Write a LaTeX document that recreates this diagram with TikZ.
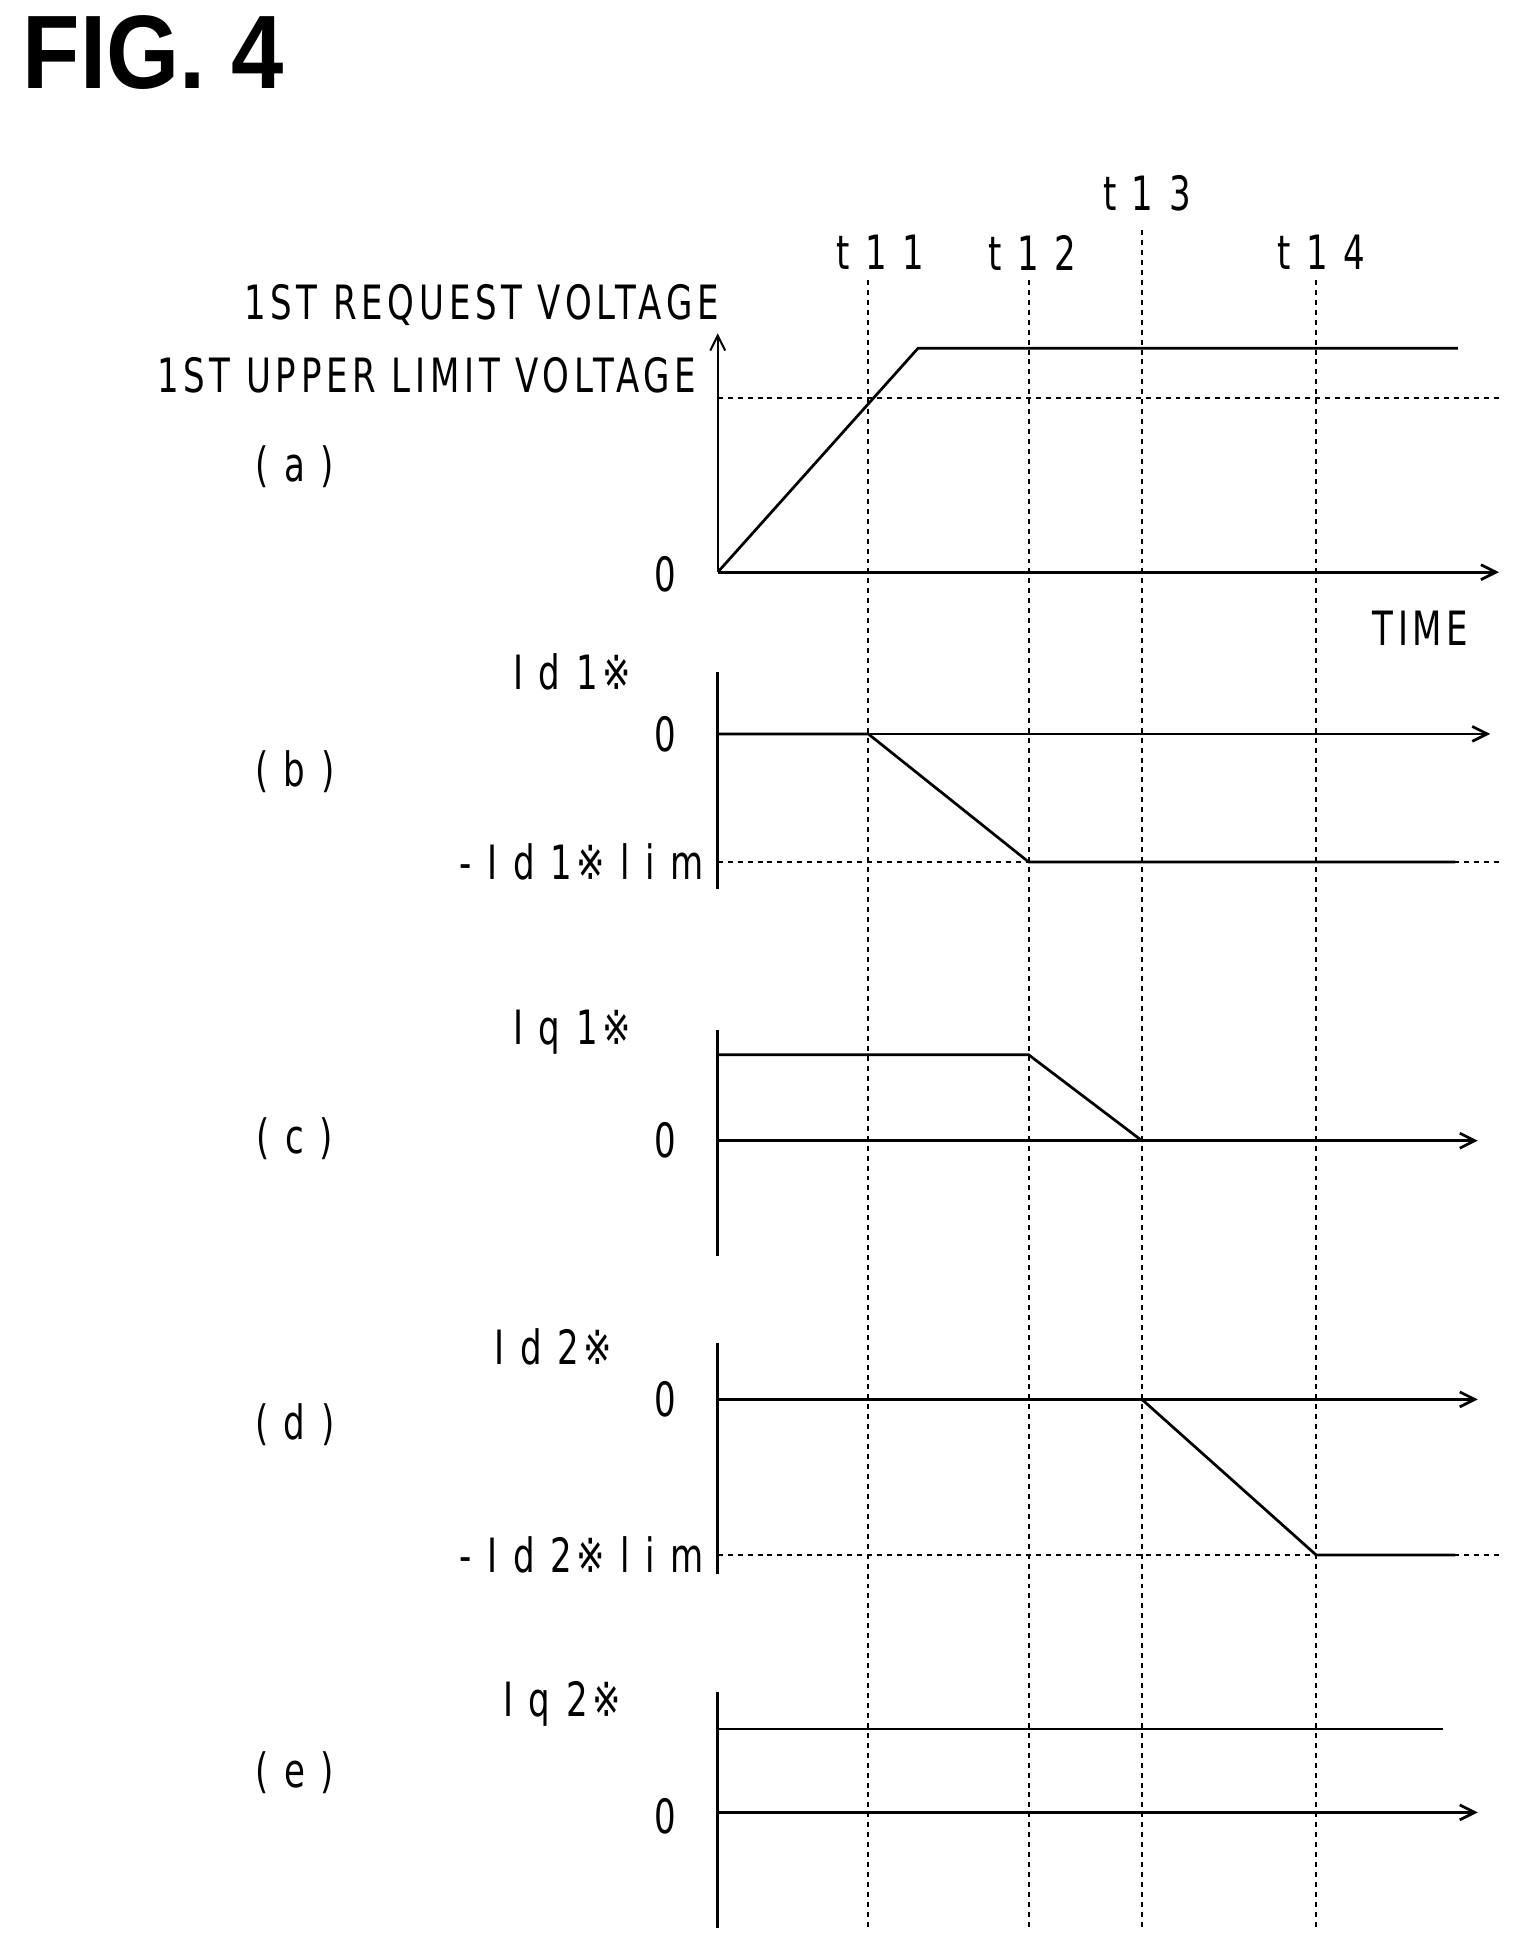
\documentclass[tikz,border=0pt]{standalone}
\usepackage{fontspec}
\setmainfont{DejaVu Sans}[FakeStretch=0.72,LetterSpace=10]
\newfontfamily\figfont{Liberation Sans}[FakeStretch=0.9]
\usetikzlibrary{arrows.meta}
\begin{document}
\begin{tikzpicture}[x=1pt,y=-1pt,
  lbl/.style={font=\fontsize{38}{40}\selectfont,inner sep=0pt},
  ax/.style={line width=2.2pt},
  sig/.style={line width=2.2pt},
  arr/.style={line width=2.2pt,-{Straight Barb[length=12pt,width=12pt]}},
  dsh/.style={line width=1.6pt,dash pattern=on 4pt off 4pt}]
\useasboundingbox (0,0) rectangle (1218,1558);
\node[font=\figfont\bfseries\fontsize{84}{86}\selectfont,anchor=north west,inner sep=0pt] (fig) at (18,12) {FIG. 4};
% time labels
\node[lbl] (l11) at (708,203) {t 1 1};
\node[lbl] (l12) at (830,203) {t 1 2};
\node[lbl] (l13) at (922,155) {t 1 3};
\node[lbl] (l14) at (1062,203) {t 1 4};
\coordinate (v11a) at (698,225); \coordinate (v11b) at (698,1550);
\coordinate (v12a) at (827,225); \coordinate (v12b) at (827,1550);
\coordinate (v13a) at (918,185); \coordinate (v13b) at (918,1550);
\coordinate (v14a) at (1058,225); \coordinate (v14b) at (1058,1550);
\draw[dsh] (v11a)--(v11b); \draw[dsh] (v12a)--(v12b);
\draw[dsh] (v13a)--(v13b); \draw[dsh] (v14a)--(v14b);
% (a)
\coordinate (ao) at (577,460);
\coordinate (at) at (577,268);
\coordinate (ae) at (1205,460);
\draw[arr,line width=1.6pt] (ao)--(at);
\draw[arr] (ao)--(ae);
\coordinate (ul1) at (577,320); \coordinate (ul2) at (1205,320);
\draw[dsh] (ul1)--(ul2);
\coordinate (ra) at (738,280); \coordinate (rb) at (1172,280);
\draw[sig] (ao)--(ra)--(rb);
\node[lbl,anchor=east] (req) at (578,245) {1ST REQUEST VOLTAGE};
\node[lbl,anchor=east] (upl) at (560,302) {1ST UPPER LIMIT VOLTAGE};
\node[lbl] (pa) at (237,375) {( a )};
\node[lbl] (za) at (535,462) {0};
\node[lbl] (tm) at (1142,505) {TIME};
% (b)
\coordinate (bt) at (577,540); \coordinate (bb) at (577,715);
\draw[ax] (bt)--(bb);
\coordinate (bo) at (577,590); \coordinate (be) at (1198,590);
\draw[arr] (bo)--(be);
\coordinate (bl1) at (577,693); \coordinate (bl2) at (1205,693);
\draw[dsh] (bl1)--(bl2);
\coordinate (b1) at (698,590); \coordinate (b2) at (827,693); \coordinate (b3) at (1170,693);
\draw[sig] (bo)--(b1)--(b2)--(b3);
\node[lbl] (nb) at (460,540) {I d 1※};
\node[lbl] (zb) at (535,590) {0};
\node[lbl,anchor=east] (lb) at (566,693) {- I d 1※ l i m};
\node[lbl] (pb) at (237,620) {( b )};
% (c)
\coordinate (ct) at (577,828); \coordinate (cb) at (577,1010);
\draw[ax] (ct)--(cb);
\coordinate (co) at (577,917); \coordinate (ce) at (1188,917);
\draw[arr] (co)--(ce);
\coordinate (c0) at (577,848); \coordinate (c1) at (827,848); \coordinate (c2) at (918,917);
\draw[sig] (c0)--(c1)--(c2);
\node[lbl] (nc) at (460,830) {I q 1※};
\node[lbl] (zc) at (535,917) {0};
\node[lbl] (pc) at (237,915) {( c )};
% (d)
\coordinate (dt) at (577,1080); \coordinate (db) at (577,1265);
\draw[ax] (dt)--(db);
\coordinate (do) at (577,1125); \coordinate (de) at (1188,1125);
\draw[arr] (do)--(de);
\coordinate (dl1) at (577,1250); \coordinate (dl2) at (1205,1250);
\draw[dsh] (dl1)--(dl2);
\coordinate (d1) at (918,1125); \coordinate (d2) at (1058,1250); \coordinate (d3) at (1170,1250);
\draw[sig] (do)--(d1)--(d2)--(d3);
\node[lbl] (nd) at (445,1083) {I d 2※};
\node[lbl] (zd) at (535,1125) {0};
\node[lbl,anchor=east] (ld) at (566,1250) {- I d 2※ l i m};
\node[lbl] (pd) at (237,1145) {( d )};
% (e)
\coordinate (et) at (577,1360); \coordinate (eb) at (577,1550);
\draw[ax] (et)--(eb);
\coordinate (eo) at (577,1457); \coordinate (ee) at (1188,1457);
\draw[arr] (eo)--(ee);
\coordinate (e0) at (577,1390); \coordinate (e1) at (1160,1390);
\draw[sig] (e0)--(e1);
\node[lbl] (ne) at (452,1370) {I q 2※};
\node[lbl] (ze) at (535,1460) {0};
\node[lbl] (pe) at (237,1425) {( e )};
\end{tikzpicture}
\end{document}
